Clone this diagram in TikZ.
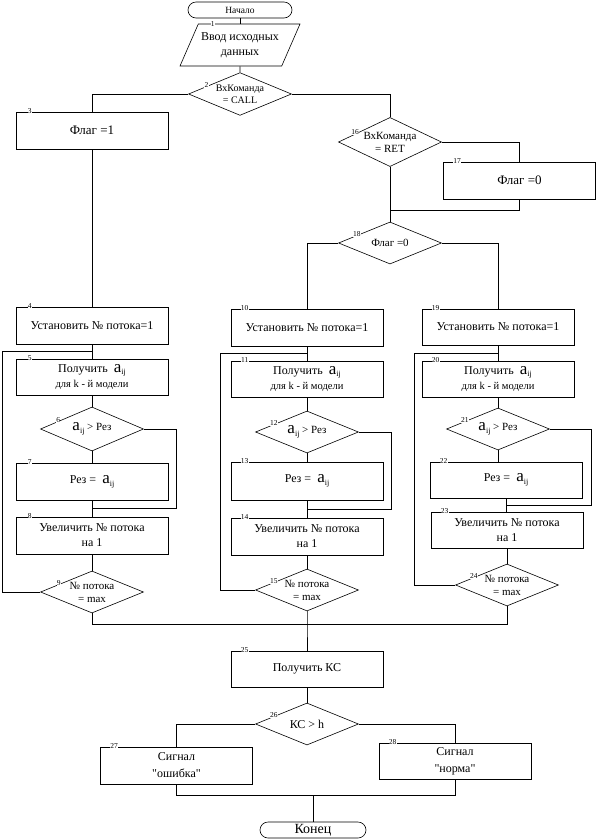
\documentclass[tikz,border=0pt]{standalone}
\usepackage{fontspec}
\setmainfont{Liberation Serif}
\usetikzlibrary{%
        calc,
        shapes.geometric}
\newcommand{\aij}{{\fontsize{17}{17}\selectfont a}\raisebox{-2.5pt}{%
    \fontsize{8}{8}\selectfont ij}}
\tikzset{%
    block/.style={draw, rectangle, minimum width=152pt, minimum height=37pt,
        inner sep=1pt, align=center, font=\fontsize{12}{15}\selectfont},
    cond/.style={draw, diamond, minimum width=103pt, minimum height=42pt,
        inner sep=-6pt, align=center, font=\fontsize{11}{13}\selectfont},
    term/.style={draw, rectangle, rounded corners=8pt, minimum width=104pt,
        minimum height=16pt, inner sep=0pt},
    io/.style={draw, trapezium, trapezium left angle=54,
        trapezium right angle=126, trapezium stretches body,
        minimum width=120pt, minimum height=42pt, inner sep=0pt,
        align=center, font=\fontsize{12}{15}\selectfont},
    num/.style={fill=white, inner sep=0.3pt, anchor=center,
        font=\fontsize{7.5}{7.5}\selectfont},
    bnum/.style={label={[num, xshift=14pt, yshift=1pt]north west:#1}},
    dnum/.style={label={[num, yshift=1.5pt]167:#1}}
}

\begin{document}
\begin{tikzpicture}[x=1pt, y=-1pt, line width=0.6pt]

    \useasboundingbox (0, 0) rectangle (596, 839);

    % start and command check
    \node[term, font=\fontsize{9.5}{10}\selectfont] (start) at (240, 10)
        {Начало};
    \node[io, label={[num]142:1}] (input) at (240, 45)
        {Ввод исходных\\данных};
    \node[cond, dnum=2, font=\fontsize{10}{12}\selectfont] (call)
        at (240, 94) {ВхКоманда\\= CALL};
    \node[block, bnum=3, font=\fontsize{13}{15}\selectfont] (flagset)
        at (92, 130.5) {Флаг =1};
    \node[cond, dnum=16] (ret) at (390, 142) {ВхКоманда\\= RET};
    \node[block, bnum=17, font=\fontsize{13}{15}\selectfont] (flagreset)
        at (519.5, 180.5) {Флаг =0};
    \node[cond, dnum=18] (flagtest) at (390, 243) {Флаг =0};

    % left column
    \node[block, bnum=4] (init1) at (92, 326) {Установить № потока=1};
    \node[block, bnum=5, minimum height=36pt] (get1) at (92, 377)
        {Получить \ \aij\\{\fontsize{10.5}{12}\selectfont для k - й модели}};
    \node[cond, dnum=6, minimum height=44pt] (cmp1) at (92, 429)
        {\aij\ > Рез};
    \node[block, bnum=7] (upd1) at (92, 482) {Рез = \ \aij};
    \node[block, bnum=8] (inc1) at (92, 535.5)
        {Увеличить № потока\\на 1};
    \node[cond, dnum=9] (test1) at (92, 592) {№ потока\\= max};

    % middle column
    \node[block, bnum=10] (init2) at (307, 327.5) {Установить № потока=1};
    \node[block, bnum=11, minimum height=36pt] (get2) at (307, 379)
        {Получить \ \aij\\{\fontsize{10.5}{12}\selectfont для k - й модели}};
    \node[cond, dnum=12] (cmp2) at (307, 432) {\aij\ > Рез};
    \node[block, bnum=13, minimum height=38pt] (upd2) at (307, 481)
        {Рез = \ \aij};
    \node[block, bnum=14] (inc2) at (307, 536.5)
        {Увеличить № потока\\на 1};
    \node[cond, dnum=15] (test2) at (307, 590) {№ потока\\= max};

    % right column
    \node[block, bnum=19, minimum height=36pt] (init3) at (498, 327)
        {Установить № потока=1};
    \node[block, bnum=20, minimum height=36pt] (get3) at (498, 379)
        {Получить \ \aij\\{\fontsize{10.5}{12}\selectfont для k - й модели}};
    \node[cond, dnum=21] (cmp3) at (498, 429) {\aij\ > Рез};
    \node[block, bnum=22, minimum height=36pt] (upd3) at (506, 480)
        {Рез = \ \aij};
    \node[block, bnum=23, minimum height=36pt] (inc3) at (507, 530)
        {Увеличить № потока\\на 1};
    \node[cond, dnum=24] (test3) at (507, 585) {№ потока\\= max};

    % checksum and end
    \node[block, bnum=25, minimum height=36pt] (getks) at (307, 669)
        {Получить КС};
    \node[cond, dnum=26, font=\fontsize{12}{14}\selectfont] (check)
        at (307, 724) {КС > h};
    \node[block, bnum=27, font=\fontsize{12}{17}\selectfont] (err)
        at (176.5, 765.5) {Сигнал\\\textquotedbl ошибка\textquotedbl};
    \node[block, bnum=28, minimum height=36pt,
        font=\fontsize{12}{17}\selectfont] (ok) at (455, 761)
        {Сигнал\\\textquotedbl норма\textquotedbl};
    \node[term, minimum width=106pt, font=\fontsize{14}{14}\selectfont]
        (stop) at (313, 830) {Конец};

    \coordinate (j0) at (390, 210);
    \coordinate (j1) at ($(init1.south)!0.5!(get1.north)$);
    \coordinate (k1) at ($(upd1.south)!0.5!(inc1.north)$);
    \coordinate (j2) at ($(init2.south)!0.5!(get2.north)$);
    \coordinate (k2) at ($(upd2.south)!0.5!(inc2.north)$);
    \coordinate (j3) at ($(init3.south)!0.5!(get3.north)$);
    \coordinate (k3) at ($(upd3.south)!0.5!(inc3.north)$);
    \coordinate (j4) at (307, 624);
    \coordinate (j5) at (313, 795);

    \draw (start) -- (input);
    \draw (input) -- (call);
    \draw (call.west) -| (flagset.north);
    \draw (flagset.south) -- (init1.north);
    \draw (call.east) -| (ret.north);
    \draw (ret.east) -| (flagreset.north);
    \draw (flagreset.south) |- (j0);
    \draw (ret.south) -- (flagtest.north);
    \draw (flagtest.west) -| (init2.north);
    \draw (flagtest.east) -| (init3.north);

    \draw (init1) -- (get1) -- (cmp1) -- (upd1) -- (inc1) -- (test1);
    \draw (cmp1.east) -- ++(32.5, 0) |- (k1);
    \draw (test1.west) -- ++(-38, 0) |- (j1);

    \draw (init2) -- (get2) -- (cmp2) -- (upd2) -- (inc2) -- (test2);
    \draw (cmp2.east) -- ++(32.5, 0) |- (k2);
    \draw (test2.west) -- ++(-34.5, 0) |- (j2);

    \draw (init3) -- (get3) -- (cmp3.north);
    \draw (cmp3.south) -- (cmp3.south |- upd3.north);
    \draw (upd3.south) -- (upd3.south |- inc3.north);
    \draw (inc3) -- (test3);
    \draw (cmp3.east) -- ++(41.5, 0) |- (k3);
    \draw (test3.west) -- ++(-40.5, 0) |- (j3);

    \draw (test1.south) |- (test3.south |- j4) -- (test3.south);
    \draw (test2.south) -- (j4) -- (getks.north);
    \draw (getks) -- (check);
    \draw (check.west) -| (err.north);
    \draw (check.east) -| (ok.north);
    \draw (err.south) |- (ok.south |- j5) -- (ok.south);
    \draw (j5) -- (stop.north);

\end{tikzpicture}
\end{document}
